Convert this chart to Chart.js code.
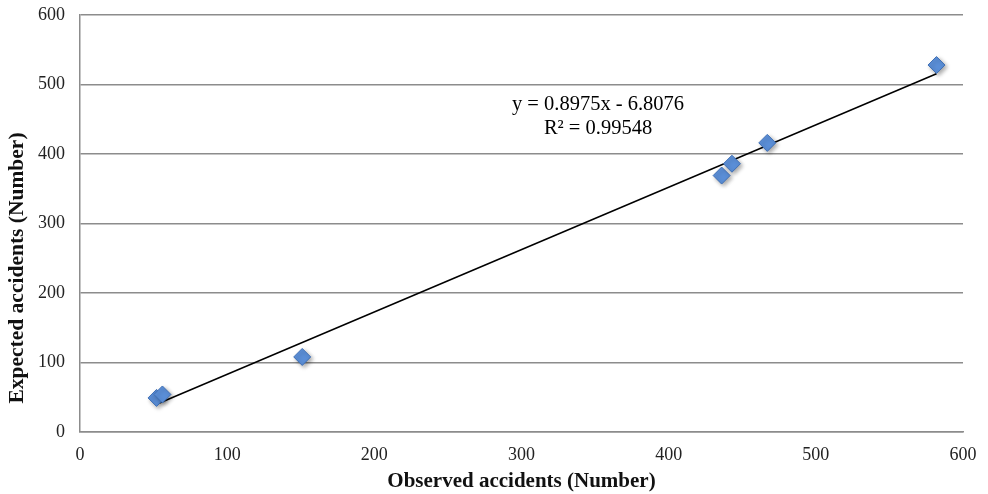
<!DOCTYPE html>
<html>
<head>
<meta charset="utf-8">
<script src="https://cdn.jsdelivr.net/npm/chart.js@4"></script>
<style>
  html, body { margin: 0; padding: 0; background: #fff; }
  #wrap { width: 988px; height: 494px; }
</style>
</head>
<body>
<div id="wrap"><canvas id="chart" width="988" height="494"></canvas></div>
<script>
// observed vs expected accidents
const observed = [52, 56, 151, 436, 443, 467, 582];
const expected = [49, 54, 108, 369, 386, 416, 528];
const slope = 0.8975;
const intercept = -6.8076;
const eqLines = ["y = 0.8975x - 6.8076", "R² = 0.99548"];
const xTicks = [0, 100, 200, 300, 400, 500, 600];
const yTicks = [0, 100, 200, 300, 400, 500, 600];
const xTitle = "Observed accidents (Number)";
const yTitle = "Expected accidents (Number)";

const points = observed.map((x, i) => ({x: x, y: expected[i]}));
const xMin = Math.min(...observed), xMax = Math.max(...observed);
const trend = [
  {x: xMin, y: slope * xMin + intercept},
  {x: xMax, y: slope * xMax + intercept}
];

const serif = "'Liberation Serif', 'Times New Roman', serif";

// equation text + y axis title (title sits lower than plot centre in the original)
const extraText = {
  id: "extraText",
  afterDatasetsDraw(chart) {
    const ctx = chart.ctx;
    const xs = chart.scales.x, ys = chart.scales.y;
    const cx = xs.getPixelForValue(352);
    ctx.save();
    ctx.font = "20.5px " + serif;
    ctx.fillStyle = "#000";
    ctx.textAlign = "center";
    ctx.textBaseline = "middle";
    ctx.fillText(eqLines[0], cx, ys.getPixelForValue(471));
    ctx.fillText(eqLines[1], cx, ys.getPixelForValue(436));

    ctx.translate(17, 268);
    ctx.rotate(-Math.PI / 2);
    ctx.font = "bold 21.5px " + serif;
    ctx.fillStyle = "#111";
    ctx.fillText(yTitle, 0, 0);
    ctx.restore();
  }
};

// soft shadow under the markers
const markerShadow = {
  id: "markerShadow",
  beforeDatasetDraw(chart, args) {
    if (args.index === 1) {
      chart.ctx.save();
      chart.ctx.shadowColor = "rgba(0,0,0,0.35)";
      chart.ctx.shadowBlur = 4;
      chart.ctx.shadowOffsetX = 2;
      chart.ctx.shadowOffsetY = 2;
    }
  },
  afterDatasetDraw(chart, args) {
    if (args.index === 1) chart.ctx.restore();
  }
};

new Chart(document.getElementById("chart").getContext("2d"), {
  type: "scatter",
  data: {
    datasets: [
      {
        label: "trend",
        data: trend,
        showLine: true,
        borderColor: "#000",
        borderWidth: 1.5,
        pointRadius: 0,
        order: 2
      },
      {
        label: "accidents",
        data: points,
        pointStyle: "rectRot",
        pointRadius: 8.5,
        backgroundColor: "#5b8fd8",
        borderColor: "#3f6fb5",
        borderWidth: 1,
        order: 1
      }
    ]
  },
  options: {
    responsive: false,
    animation: false,
    layout: { padding: { top: 15, right: 25, bottom: 0, left: 0 } },
    plugins: {
      legend: { display: false },
      tooltip: { enabled: false }
    },
    scales: {
      x: {
        type: "linear",
        min: 0, max: 600,
        afterBuildTicks: (s) => { s.ticks = xTicks.map(v => ({value: v})); },
        afterFit: (s) => { s.height = 62; s.paddingLeft = 0; s.paddingRight = 0; },
        grid: { display: false, drawTicks: false },
        border: { color: "#8c8c8c", width: 1.5 },
        ticks: { color: "#222", font: { size: 18, family: serif }, padding: 12 },
        title: {
          display: true,
          text: xTitle,
          color: "#111",
          font: { size: 21, weight: "bold", family: serif },
          padding: { top: 0, bottom: 0 }
        }
      },
      y: {
        min: 0, max: 600,
        afterBuildTicks: (s) => { s.ticks = yTicks.map(v => ({value: v})); },
        afterFit: (s) => { s.width = 80; s.paddingTop = 0; s.paddingBottom = 0; },
        grid: { color: "#8c8c8c", lineWidth: 1.5, drawTicks: false },
        border: { color: "#8c8c8c", width: 1.5 },
        ticks: { color: "#222", font: { size: 18, family: serif }, padding: 15 }
      }
    }
  },
  plugins: [extraText, markerShadow]
});
</script>
</body>
</html>
